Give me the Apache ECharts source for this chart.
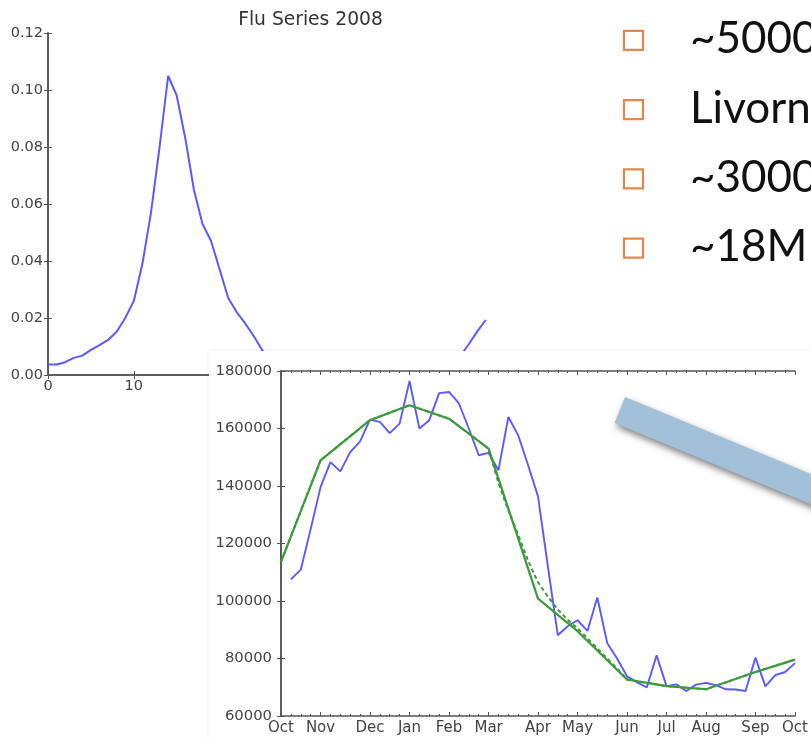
<!DOCTYPE html>
<html>
<head>
<meta charset="utf-8">
<script src="https://cdn.jsdelivr.net/npm/echarts@6/dist/echarts.min.js"></script>
<style>
  html, body { margin: 0; padding: 0; background: #ffffff; }
  #chart { width: 811px; height: 739px; }
</style>
</head>
<body>
<div id="chart"></div>
<script>
// Weekly flu rate, 2008 season (week index 0..51)
const fluRate = [
  0.0037, 0.0037, 0.0045, 0.0060, 0.0068, 0.0088, 0.0105, 0.0123, 0.0152, 0.0200,
  0.0260, 0.0390, 0.0570, 0.0800, 0.1050, 0.0980, 0.0830, 0.0650, 0.0530, 0.0470,
  0.0370, 0.0270, 0.0220, 0.0180, 0.0135, 0.0085, 0.0060, 0.0045, 0.0040, 0.0035,
  0.0030, 0.0028, 0.0025, 0.0022, 0.0020, 0.0020, 0.0019, 0.0018, 0.0018, 0.0018,
  0.0019, 0.0020, 0.0022, 0.0025, 0.0030, 0.0035, 0.0045, 0.0058, 0.0065, 0.0107,
  0.0152, 0.0193
];
const fluXTicks = [0, 10, 20, 30, 40, 50, 60];
const fluYTicks = [0, 0.02, 0.04, 0.06, 0.08, 0.10, 0.12];

// Weekly visit counts, October to October (weeks 1..52)
const visitWeeks = Array.from({ length: 52 }, (_, i) => i + 1);
const visits = [
  107500, 110900, 125000, 139600, 148300, 145100, 151800, 155500, 163100, 162300,
  158400, 161700, 176500, 160000, 162900, 172300, 172700, 168700, 160000, 150700,
  151500, 145500, 164000, 157600, 147200, 136400, 112000, 88100, 91200, 93300,
  89600, 101200, 85400, 80000, 73800, 71800, 69900, 81100, 70400, 71000,
  68700, 70900, 71500, 70700, 69300, 69200, 68700, 80300, 70300, 74200,
  75300, 78400
];

// Month boundaries in weeks and their labels
const monthWeeks = [0, 4, 9, 13, 17, 21, 26, 30, 35, 39, 43, 48, 52];
const monthNames = ['Oct', 'Nov', 'Dec', 'Jan', 'Feb', 'Mar', 'Apr', 'May', 'Jun', 'Jul', 'Aug', 'Sep', 'Oct'];

// Monthly fit (solid)
const monthlyFit = [113600, 148900, 162900, 168100, 163400, 153000, 100800, 89500, 72700, 70400, 69300, 75300, 79600];

// Smoothed fit (dashed)
const smoothWeeks = [0, 4, 9, 13, 17, 21, 22, 23, 24, 25, 26, 27, 28, 29, 30, 31, 32, 33, 34, 35, 39, 43, 48, 52];
const smoothFit = [113600, 148900, 162900, 168100, 163400, 153000, 141000, 131500, 123000, 114000,
  106500, 101500, 97000, 93500, 90500, 87000, 83500, 80000, 76500, 72700, 70400, 69300, 75300, 79600];
const visitYTicks = [60000, 80000, 100000, 120000, 140000, 160000, 180000];

// Bullet lines
const bulletLines = ['~5000', 'Livorno', '~3000', '~18M'];

const AXIS_COLOR = '#555';
const LABEL_COLOR = '#444';
const TICK_FONT = 'DejaVu Sans';

function frameAxis(extra) {
  return Object.assign({
    splitLine: { show: false },
    axisLine: { show: true, lineStyle: { color: AXIS_COLOR, width: 1.6 } },
    axisTick: { show: true, inside: true, length: 4, lineStyle: { color: AXIS_COLOR, width: 1 } },
    axisLabel: { show: false }
  }, extra);
}

const chart = echarts.init(document.getElementById('chart'), null, { renderer: 'canvas' });

const graphics = [
  // white panel holding the visits chart
  {
    type: 'rect', z: 5,
    shape: { x: 209, y: 351, width: 640, height: 420 },
    style: { fill: '#ffffff', shadowBlur: 4, shadowColor: 'rgba(0,0,0,0.10)' }
  },
  // pointer bar
  {
    type: 'polygon', z: 20,
    shape: { points: [[625, 397], [856, 492.7], [845.6, 518.6], [614.6, 422.9]] },
    style: { fill: '#a3c0d9', shadowBlur: 7, shadowOffsetX: 2, shadowOffsetY: 4, shadowColor: 'rgba(0,0,0,0.5)' }
  }
];
bulletLines.forEach((t, i) => {
  const cy = 40.3 + 69.3 * i;
  graphics.push({
    type: 'rect', z: 20,
    shape: { x: 624, y: cy - 9.5, width: 19, height: 19 },
    style: { fill: 'none', stroke: '#e2884e', lineWidth: 2.2 }
  });
  graphics.push({
    type: 'text', z: 20,
    x: 690, y: cy - 1,
    style: { text: t, fill: '#111', font: '44px Lato', verticalAlign: 'middle', align: 'left' }
  });
});

const option = {
  backgroundColor: '#ffffff',
  animation: false,
  title: {
    text: 'Flu Series 2008',
    left: 305.5, textAlign: 'center', top: 6,
    textStyle: { fontFamily: TICK_FONT, fontSize: 18.7, fontWeight: 'normal', color: '#333' }
  },
  grid: [
    { left: 48, top: 33, width: 515, height: 342 },
    { left: 281, top: 371, width: 518, height: 345, z: 10 }
  ],
  xAxis: [
    frameAxis({
      type: 'value', gridIndex: 0, position: 'bottom', min: fluXTicks[0], max: fluXTicks[fluXTicks.length - 1], interval: 10,
      axisLabel: { show: true, margin: 4, color: LABEL_COLOR, fontFamily: TICK_FONT, fontSize: 14.5 }
    }),
    frameAxis({ type: 'value', gridIndex: 0, position: 'top', min: 0, max: 60, interval: 10 }),
    frameAxis({
      type: 'value', gridIndex: 1, position: 'bottom', min: 0, max: 52, z: 10,
      axisTick: { show: true, inside: true, length: 4, customValues: monthWeeks, lineStyle: { color: AXIS_COLOR, width: 1 } },
      axisLabel: {
        show: true, margin: 5, color: LABEL_COLOR, fontFamily: TICK_FONT, fontSize: 15,
        customValues: monthWeeks,
        formatter: (v) => monthNames[monthWeeks.indexOf(v)]
      }
    }),
    frameAxis({
      type: 'value', gridIndex: 1, position: 'bottom', min: 0, max: 52, interval: 1, z: 10,
      axisLine: { show: false },
      axisTick: { show: true, inside: true, length: 2, lineStyle: { color: AXIS_COLOR, width: 1 } }
    }),
    frameAxis({
      type: 'value', gridIndex: 1, position: 'top', min: 0, max: 52, z: 10,
      axisTick: { show: true, inside: true, length: 4, customValues: monthWeeks, lineStyle: { color: AXIS_COLOR, width: 1 } }
    }),
    frameAxis({
      type: 'value', gridIndex: 1, position: 'top', min: 0, max: 52, interval: 1, z: 10,
      axisLine: { show: false },
      axisTick: { show: true, inside: true, length: 2, lineStyle: { color: AXIS_COLOR, width: 1 } }
    })
  ],
  yAxis: [
    frameAxis({
      type: 'value', gridIndex: 0, position: 'left', min: fluYTicks[0], max: fluYTicks[fluYTicks.length - 1], interval: 0.02,
      axisLabel: { show: true, margin: 5, color: LABEL_COLOR, fontFamily: TICK_FONT, fontSize: 14.5, formatter: (v) => v.toFixed(2) }
    }),
    frameAxis({ type: 'value', gridIndex: 0, position: 'right', min: 0, max: 0.12, interval: 0.02 }),
    frameAxis({
      type: 'value', gridIndex: 1, position: 'left', min: visitYTicks[0], max: visitYTicks[visitYTicks.length - 1], interval: 20000, z: 10,
      axisLabel: { show: true, margin: 9, color: LABEL_COLOR, fontFamily: TICK_FONT, fontSize: 14.8, formatter: (v) => String(v) }
    }),
    frameAxis({ type: 'value', gridIndex: 1, position: 'right', min: 60000, max: 180000, interval: 20000, z: 10 })
  ],
  series: [
    {
      type: 'line', xAxisIndex: 0, yAxisIndex: 0, z: 2,
      data: fluRate.map((v, i) => [i, v]),
      showSymbol: false, symbol: 'none',
      lineStyle: { color: '#5a5aff', width: 2 }
    },
    {
      type: 'line', xAxisIndex: 2, yAxisIndex: 2, z: 12,
      data: visits.map((v, i) => [visitWeeks[i], v]),
      showSymbol: false, symbol: 'none',
      lineStyle: { color: '#5a5aff', width: 1.9 }
    },
    {
      type: 'line', xAxisIndex: 2, yAxisIndex: 2, z: 13,
      data: smoothFit.map((v, i) => [smoothWeeks[i], v]),
      showSymbol: false, symbol: 'none',
      lineStyle: { color: '#3c9a3c', width: 2, type: [4, 3] }
    },
    {
      type: 'line', xAxisIndex: 2, yAxisIndex: 2, z: 14,
      data: monthlyFit.map((v, i) => [monthWeeks[i], v]),
      showSymbol: false, symbol: 'none',
      lineStyle: { color: '#3c9a3c', width: 2.2 }
    }
  ],
  graphic: { elements: graphics }
};

chart.setOption(option);
</script>
</body>
</html>
